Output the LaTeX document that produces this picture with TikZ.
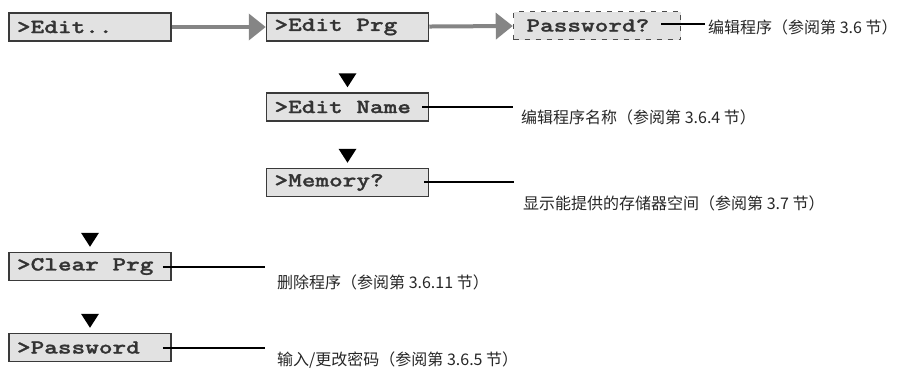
\documentclass[tikz,border=0pt]{standalone}
\usepackage{fontspec}
\newfontfamily\lcdfont{Latin Modern Mono Light}[FakeStretch=1.3, FakeBold=1.2]
\newfontfamily\cjk{Noto Sans CJK SC}
\newcommand\lcdsp{\hspace*{13.6pt}}
\usetikzlibrary{arrows.meta}
\definecolor{boxfill}{HTML}{E2E2E2}
\definecolor{boxline}{HTML}{3A3A3A}
\definecolor{flowgray}{HTML}{858585}
\tikzset{
  menubox/.style={draw=boxline, fill=boxfill, line width=1.5pt,
    text width=146pt, inner xsep=8pt, minimum height=28pt, align=left,
    font=\lcdfont\bfseries\fontsize{20}{22}\selectfont, text=black!80},
  optbox/.style={menubox, draw=black!70, dash pattern=on 5pt off 6pt,
    inner xsep=13pt, text width=141pt},
  flow/.style={draw=flowgray, line width=4pt,
    -{Triangle[length=17pt,width=26pt]}},
  note/.style={draw=black, line width=1.8pt},
  notetext/.style={anchor=west, inner sep=0pt, text=black!85,
    font=\cjk\fontsize{16}{18}\selectfont},
  downtri/.style={fill=black}
}
\begin{document}
\begin{tikzpicture}[x=1pt, y=-1pt, line cap=butt, line join=miter]
  \useasboundingbox (0,0) rectangle (904,368);
  % top row of menu entries
  \node[menubox] (edit) at (90,27) {>Edit..};
  \node[menubox] (prg)  at (347.5,27) {>Edit\lcdsp Prg};
  \node[optbox]  (pwq)  at (597,25.5) {Password?};
  \draw[flow] (edit) -- (prg);
  \draw[flow] (prg) -- (pwq);
  % sub entries below >Edit Prg
  \node[menubox] (name) at (347.5,107) {>Edit\lcdsp Name};
  \node[menubox] (mem)  at (347.5,182.5) {>Memory?};
  % entries at the left
  \node[menubox] (clr)  at (90,266.5) {>Clear\lcdsp Prg};
  \node[menubox] (pwd)  at (90,347.5) {>Password};
  % down markers
  \foreach \b in {name, mem, clr, pwd}
    \fill[downtri] ([shift={(-9pt,19pt)}]\b.north) -- ++(18,0) -- ++(-9,14) -- cycle;
  % leader lines and notes
  \coordinate (e1) at (705,24);
  \coordinate (e2) at (513,107);
  \coordinate (e3) at (514,182);
  \coordinate (e4) at (265,267);
  \coordinate (e5) at (265,348);
  \draw[note] ([xshift=-20pt]pwq.east |- e1) -- (e1);
  \draw[note] ([xshift=-7pt]name.east |- e2) -- (e2);
  \draw[note] ([xshift=-5pt]mem.east |- e3) -- (e3);
  \draw[note] ([xshift=-9pt]clr.east |- e4) -- (e4);
  \draw[note] ([xshift=-9pt]pwd.east |- e5) -- (e5);
  \node[notetext] (n1) at (708,27) {编辑程序（参阅第 3.6 节）};
  \node[notetext] (n2) at (521,117) {编辑程序名称（参阅第 3.6.4 节）};
  \node[notetext] (n3) at (523,203) {显示能提供的存储器空间（参阅第 3.7 节）};
  \node[notetext] (n4) at (277,282) {删除程序（参阅第 3.6.11 节）};
  \node[notetext] (n5) at (277,360) {输入/更改密码（参阅第 3.6.5 节）};
\end{tikzpicture}
\end{document}
